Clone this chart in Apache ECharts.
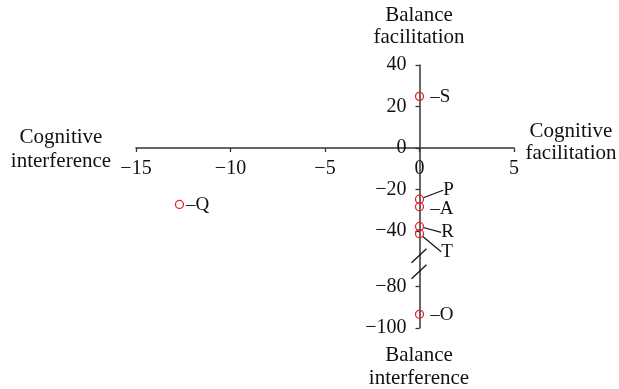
<!DOCTYPE html>
<html>
<head>
<meta charset="utf-8">
<script src="https://cdn.jsdelivr.net/npm/echarts@6/dist/echarts.min.js"></script>
<style>
  html, body { margin: 0; padding: 0; background: #fff; }
  #chart { width: 619px; height: 389px; }
</style>
</head>
<body>
<div id="chart"></div>
<script>
// points
const names = ['S', 'P', 'A', 'R', 'T', 'O', 'Q']
const xValues = [0, 0, 0, 0, 0, 0, -12.7]
const yValues = [24.9, -24.6, -28.2, -37.7, -41.8, -93.4, -27.1]

// axes
const xTicks = [-15, -10, -5, 0, 5]
const yTicks = [40, 20, 0, -20, -40, -80, -100]
const yBreak = [-80, -40]

const font = 'Liberation Serif'
const ink = '#111'
const axisColor = '#333'

// label placement per point (text, gap from symbol, vertical shift, leader line)
const labelConf = {
  S: { text: '–S', distance: 6, dy: 1 },
  P: { text: 'P', distance: 19, dy: -9, line: true },
  A: { text: '–A', distance: 6, dy: 2 },
  R: { text: 'R', distance: 17, dy: 6, line: true },
  T: { text: 'T', distance: 17, dy: 18, line: true },
  O: { text: '–O', distance: 6, dy: 1 },
  Q: { text: '–Q', distance: 2, dy: 1 },
}

const fmt = v => String(v).replace('-', '\u2212')

const points = names.map((n, i) => {
  const c = labelConf[n]
  return {
    name: n,
    value: [xValues[i], yValues[i]],
    label: { formatter: c.text, distance: c.distance },
    labelLine: { show: !!c.line, lineStyle: { color: ink, width: 1.2 } },
  }
})

const options = {
  animation: false,
  grid: { left: 136, right: 105, top: 65, bottom: 61, outerBoundsMode: 'none' },
  xAxis: {
    type: 'value',
    min: xTicks[0],
    max: xTicks[xTicks.length - 1],
    interval: 5,
    axisLine: { onZero: false, lineStyle: { color: axisColor, width: 1.5 } },
    axisTick: { show: true, length: 4, lineStyle: { color: axisColor, width: 1.3 } },
    axisLabel: { color: ink, fontFamily: font, fontSize: 20, margin: 11, formatter: fmt },
    splitLine: { show: false },
  },
  yAxis: {
    type: 'value',
    min: -100,
    max: 40,
    interval: 20,
    breaks: [{ start: yBreak[0], end: yBreak[1], gap: '21%' }],
    breakArea: { show: false },
    axisLine: { onZero: false, breakLine: false, lineStyle: { color: axisColor, width: 1.5 } },
    axisTick: { show: true, length: 4, lineStyle: { color: axisColor, width: 1.3 } },
    axisLabel: {
      color: ink, fontFamily: font, fontSize: 20, margin: 13,
      formatter: v => (yTicks.includes(v) ? fmt(v) : ''),
    },
    splitLine: { show: false },
  },
  graphic: [
    { type: 'text', x: 61, y: 149, style: { text: 'Cognitive\ninterference', align: 'center', verticalAlign: 'middle', lineHeight: 24, font: '21px ' + font, fill: ink } },
    { type: 'text', x: 571, y: 142, style: { text: 'Cognitive\nfacilitation', align: 'center', verticalAlign: 'middle', lineHeight: 22, font: '21px ' + font, fill: ink } },
    { type: 'text', x: 419, y: 26, style: { text: 'Balance\nfacilitation', align: 'center', verticalAlign: 'middle', lineHeight: 22, font: '21px ' + font, fill: ink } },
    { type: 'text', x: 419, y: 367, style: { text: 'Balance\ninterference', align: 'center', verticalAlign: 'middle', lineHeight: 23, font: '21px ' + font, fill: ink } },
  ],
  series: [
    {
      type: 'scatter',
      data: points,
      symbol: 'circle',
      symbolSize: 8,
      itemStyle: { color: 'rgba(0,0,0,0)', borderColor: '#e8202a', borderWidth: 1.3, opacity: 1 },
      label: { show: true, position: 'right', fontFamily: font, fontSize: 19, color: ink },
      labelLayout: params => ({ dy: labelConf[names[params.dataIndex]].dy || 0 }),
      emphasis: { disabled: true },
      silent: true,
      z: 5,
    },
    {
      // the two slashes marking the break on the y axis
      type: 'custom',
      data: [[0, (yBreak[0] + yBreak[1]) / 2]],
      silent: true,
      renderItem: (params, api) => {
        const p = api.coord([api.value(0), api.value(1)])
        const slash = oy => ({
          type: 'line',
          shape: { x1: p[0] - 8, y1: p[1] + oy + 7, x2: p[0] + 7, y2: p[1] + oy - 7 },
          style: { stroke: ink, lineWidth: 1.3 },
        })
        return { type: 'group', children: [slash(-3), slash(13)] }
      },
    },
  ],
}

const chart = echarts.init(document.getElementById('chart'))
chart.setOption(options)

// put both axes (with their labels) through the origin
const zeroX = chart.convertToPixel({ xAxisIndex: 0 }, 0)
const zeroY = chart.convertToPixel({ yAxisIndex: 0 }, 0)
const leftX = chart.convertToPixel({ xAxisIndex: 0 }, xTicks[0])
const bottomY = chart.convertToPixel({ yAxisIndex: 0 }, -100)
chart.setOption({
  xAxis: { offset: zeroY - bottomY },
  yAxis: { offset: leftX - zeroX },
})

window.onresize = function () {
  chart.resize()
}
</script>
</body>
</html>
